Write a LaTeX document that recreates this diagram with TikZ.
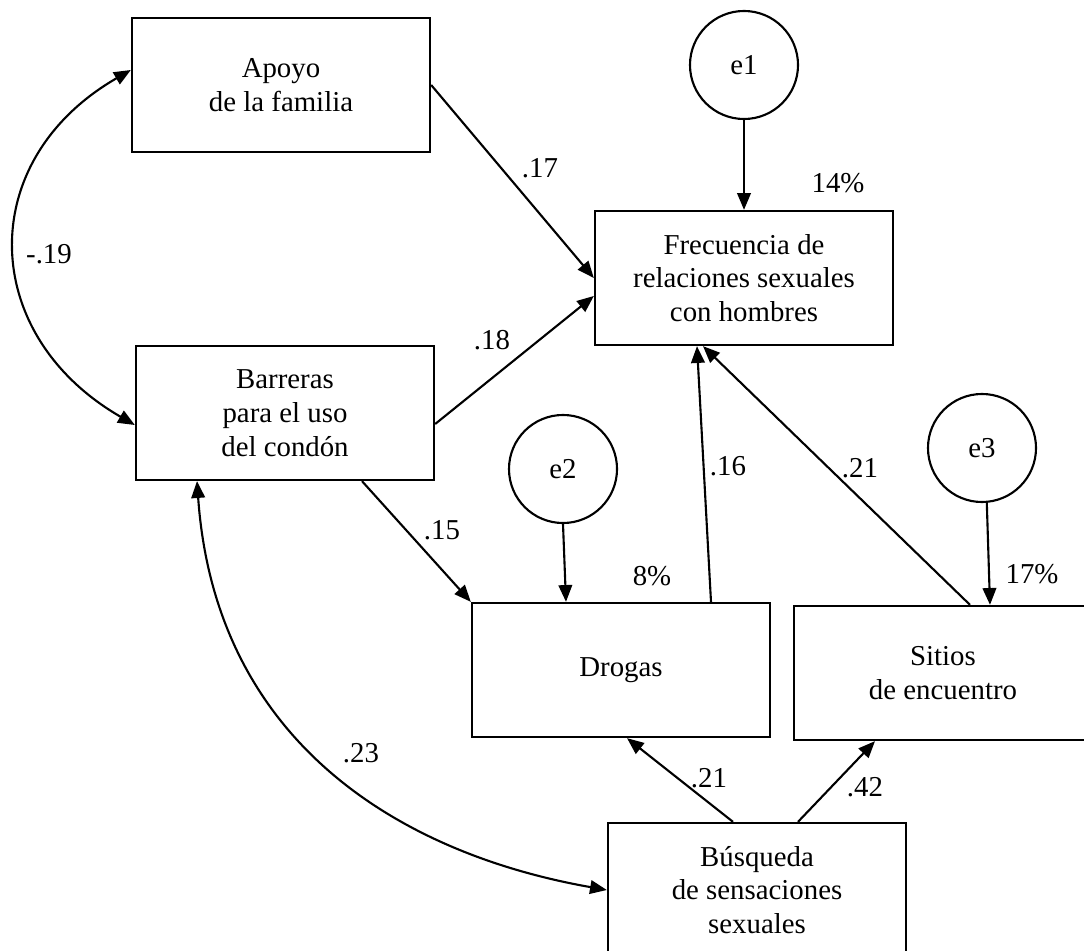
\documentclass[tikz,border=0pt]{standalone}
\usepackage{fontspec}
\setmainfont{Liberation Serif}
\usetikzlibrary{arrows.meta,calc}

\begin{document}
\begin{tikzpicture}[x=0.025cm,y=0.025cm,
        font=\fontsize{20.5}{24}\selectfont,
        var/.style={draw,line width=1.6pt,minimum width=7.45cm,minimum height=3.35cm,align=center},
        err/.style={draw,circle,line width=1.5pt,minimum size=2.7cm,inner sep=0pt},
        causal/.style={line width=1.5pt,-{Triangle[length=0.42cm,width=0.34cm]}},
        cov/.style={line width=1.5pt,{Triangle[length=0.42cm,width=0.34cm]}-{Triangle[length=0.42cm,width=0.34cm]}}]
        \clip (0,0) rectangle (1084,-951);
        % observed variables
        \node[var] (apoyo) at (281,-85) {Apoyo\\de la familia};
        \node[var] (frec) at (744,-278) {Frecuencia de\\relaciones sexuales\\con hombres};
        \node[var] (barreras) at (285,-413) {Barreras\\para el uso\\del condón};
        \node[var] (drogas) at (621,-670) {Drogas};
        \node[var] (sitios) at (943,-673) {Sitios\\de encuentro};
        \node[var] (busq) at (757,-890) {Búsqueda\\de sensaciones\\sexuales};
        % errors
        \node[err] (e1) at (744,-65) {e1};
        \node[err] (e2) at (563,-469) {e2};
        \node[err] (e3) at (982,-448) {e3};
        % paths
        \draw[causal] (apoyo.east) -- (frec.west);
        \draw[causal] ($(barreras.east)+(0,-11)$) -- ($(frec.west)+(0,-18)$);
        \draw[causal] ($(barreras.south)+(77,0)$) -- (drogas.north west);
        \draw[causal] ($(drogas.north)+(90,0)$) -- ($(frec.south)+(-47,0)$);
        \draw[causal] ($(sitios.north)+(27,0)$) -- ($(frec.south)+(-41,0)$);
        \draw[causal] ($(busq.north)+(-24,0)$) -- ($(drogas.south)+(6,0)$);
        \draw[causal] ($(busq.north)+(41,0)$) -- ($(sitios.south)+(-68,0)$);
        \draw[causal] (e1.south) -- (frec.north);
        \draw[causal] (e2.south) -- ($(drogas.north)+(-55,0)$);
        \draw[causal] (e3.-85) -- ($(sitios.north)+(47,0)$);
        \draw[cov] ($(apoyo.west)+(0,15)$) to[out=210,in=150,looseness=1.3] ($(barreras.west)+(0,-12)$);
        \draw[cov] ($(barreras.south)+(-88,0)$) to[out=-86,in=170,out distance=6.5cm,in distance=5.3cm] (busq.west);
        % coefficients
        \node (c17) at (540,-168) {.17};
        \node (r14) at (838,-183) {14\%};
        \node (c19) at (49,-254) {-.19};
        \node (c18) at (492,-340) {.18};
        \node (c16) at (728,-466) {.16};
        \node (c21a) at (860,-468) {.21};
        \node (c15) at (442,-530) {.15};
        \node (r8) at (652,-576) {8\%};
        \node (r17) at (1032,-574) {17\%};
        \node (c23) at (361,-753) {.23};
        \node (c21b) at (709,-778) {.21};
        \node (c42) at (865,-787) {.42};
\end{tikzpicture}
\end{document}
